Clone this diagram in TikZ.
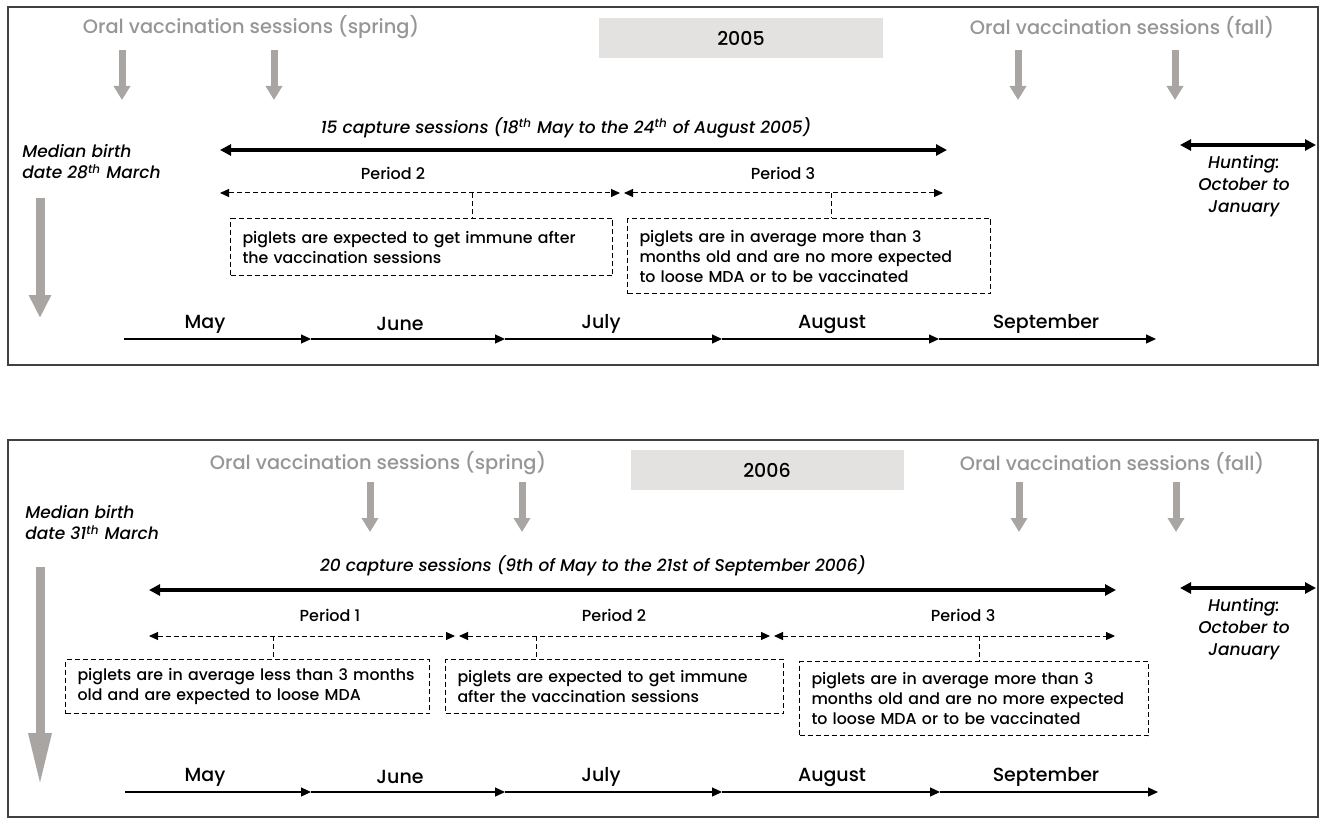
\documentclass[tikz,border=0pt]{standalone}
\usepackage{fontspec}
\setmainfont{Poppins Medium}[ItalicFont={Poppins Medium Italic}]
\usepackage{tikz}
\usetikzlibrary{arrows.meta,positioning,calc}
\definecolor{framegray}{RGB}{64,64,64}
\definecolor{vacgray}{RGB}{168,165,163}
\definecolor{vactext}{RGB}{150,150,150}
\definecolor{yearfill}{RGB}{228,226,225}

\begin{document}
\begin{tikzpicture}[
        x=0.5pt, y=-0.5pt,
        panel/.style={draw=framegray, line width=1pt},
        vactitle/.style={text=vactext, font=\fontsize{9.7}{12}\selectfont},
        yearbox/.style={fill=yearfill, minimum width=142pt, minimum height=20pt, font=\fontsize{9.5}{11}\selectfont},
        capturetext/.style={font=\fontsize{8.5}{10}\selectfont\itshape},
        sidetext/.style={font=\fontsize{8.5}{10.5}\selectfont\itshape, align=left, anchor=west, inner sep=0pt},
        huntext/.style={font=\fontsize{8.5}{11}\selectfont\itshape, align=center},
        periodtext/.style={font=\fontsize{8}{10}\selectfont},
        monthtext/.style={font=\fontsize{9.5}{11}\selectfont},
        note/.style={draw, dash pattern=on 2.5pt off 1.5pt, line width=0.5pt, anchor=north west, align=left, inner xsep=6pt, font=\fontsize{7.9}{10}\selectfont},
        vacarrow/.style={draw=vacgray, line width=3.5pt, -{Triangle[length=7pt, width=8pt]}},
        birtharrow/.style={draw=vacgray, line width=4.5pt, -{Triangle[length=11.5pt, width=10.5pt]}},
        capture/.style={line width=2pt, {Triangle[length=5.5pt, width=5.5pt]}-{Triangle[length=5.5pt, width=5.5pt]}},
        period/.style={dash pattern=on 2.5pt off 1.5pt, line width=0.5pt, {Triangle[length=4.5pt, width=4pt]}-{Triangle[length=4.5pt, width=4pt]}},
        stub/.style={dash pattern=on 2.5pt off 1.5pt, line width=0.5pt},
        month/.style={line width=0.6pt, -{Triangle[length=5pt, width=4.5pt]}}
    ]
        \useasboundingbox (0,0) rectangle (1320,818);

        % ---------------- 2005 ----------------
        \draw[panel] (8,7) rectangle (1318,365);

        % Vaccination sessions and year
        \node[vactitle] (springA) at (251,27) {Oral vaccination sessions (spring)};
        \node[yearbox] (yearA) at (741,38) {2005};
        \node[vactitle] (fallA) at (1122,27) {Oral vaccination sessions (fall)};

        \coordinate (vA1) at (122,50);  \coordinate (vA1e) at (122,100);
        \coordinate (vA2) at (274,50);  \coordinate (vA2e) at (274,100);
        \coordinate (vA3) at (1018,50); \coordinate (vA3e) at (1018,100);
        \coordinate (vA4) at (1175,50); \coordinate (vA4e) at (1175,100);
        \draw[vacarrow] (vA1) -- (vA1e);
        \draw[vacarrow] (vA2) -- (vA2e);
        \draw[vacarrow] (vA3) -- (vA3e);
        \draw[vacarrow] (vA4) -- (vA4e);

        % Capture sessions
        \node[capturetext] (captureA) at (566,128) {15 capture sessions (18\textsuperscript{th} May to the 24\textsuperscript{th} of August 2005)};
        \coordinate (capA) at (220,150); \coordinate (capAe) at (947,150);
        \draw[capture] (capA) -- (capAe);

        % Birth date
        \node[sidetext] (birthA) at (22,162) {Median birth\\date 28\textsuperscript{th} March};
        \coordinate (bA) at (40,198); \coordinate (bAe) at (40,318);
        \draw[birtharrow] (bA) -- (bAe);

        % Hunting
        \coordinate (huA) at (1180,145); \coordinate (huAe) at (1316,145);
        \draw[capture] (huA) -- (huAe);
        \node[huntext] (huntA) at (1244,186) {Hunting:\\October to\\January};

        % Periods
        \node[periodtext] (perAtwo) at (393,173) {Period 2};
        \node[periodtext] (perAthree) at (783,173) {Period 3};
        \coordinate (pA0) at (220,193); \coordinate (pA1) at (620,193);
        \coordinate (pA2) at (624,193); \coordinate (pA3) at (943,193);
        \draw[period] (pA0) -- (pA1);
        \draw[period] (pA2) -- (pA3);

        \node[note, text width=179pt, minimum height=28.5pt] (noteAtwo) at (230,218) {piglets are expected to get immune after\\the vaccination sessions};
        \node[note, text width=169.5pt, minimum height=37.5pt] (noteAthree) at (627,218) {piglets are in average more than 3\\months old and are no more expected\\to loose MDA or to be vaccinated};
        \coordinate (sAtwo) at (472,193);
        \coordinate (sAthree) at (831,193);
        \draw[stub] (sAtwo) -- (sAtwo |- noteAtwo.north);
        \draw[stub] (sAthree) -- (sAthree |- noteAthree.north);

        % Months
        \coordinate (mA0) at (124,339);  \coordinate (mA1) at (311,339);
        \coordinate (mA2) at (505,339);  \coordinate (mA3) at (722,339);
        \coordinate (mA4) at (939,339);  \coordinate (mA5) at (1156,339);
        \draw[month] (mA0) -- (mA1);
        \draw[month] (mA1) -- (mA2);
        \draw[month] (mA2) -- (mA3);
        \draw[month] (mA3) -- (mA4);
        \draw[month] (mA4) -- (mA5);
        \node[monthtext] (mayA) at (205,324) {May};
        \node[monthtext] (junA) at (400,324) {June};
        \node[monthtext] (julA) at (601,324) {July};
        \node[monthtext] (augA) at (832,324) {August};
        \node[monthtext] (sepA) at (1046,324) {September};

        % ---------------- 2006 ----------------
        \draw[panel] (8,440) rectangle (1318,817);

        % Vaccination sessions and year
        \node[vactitle] (springB) at (378,463) {Oral vaccination sessions (spring)};
        \node[yearbox, minimum width=136.5pt] (yearB) at (767,470) {2006};
        \node[vactitle] (fallB) at (1112,463) {Oral vaccination sessions (fall)};

        \coordinate (vB1) at (370,482);  \coordinate (vB1e) at (370,532);
        \coordinate (vB2) at (522,482);  \coordinate (vB2e) at (522,532);
        \coordinate (vB3) at (1019,482); \coordinate (vB3e) at (1019,532);
        \coordinate (vB4) at (1176,482); \coordinate (vB4e) at (1176,532);
        \draw[vacarrow] (vB1) -- (vB1e);
        \draw[vacarrow] (vB2) -- (vB2e);
        \draw[vacarrow] (vB3) -- (vB3e);
        \draw[vacarrow] (vB4) -- (vB4e);

        % Capture sessions
        \node[capturetext] (captureB) at (593,566) {20 capture sessions (9th of May to the 21st of September 2006)};
        \coordinate (capB) at (149,590); \coordinate (capBe) at (1116,590);
        \draw[capture] (capB) -- (capBe);

        % Birth date
        \node[sidetext] (birthB) at (25,523) {Median birth\\date 31\textsuperscript{th} March};
        \coordinate (bB) at (40,567); \coordinate (bBe) at (40,787);
        \draw[birtharrow, -{Triangle[length=27pt, width=10.5pt]}] (bB) -- (bBe);

        % Hunting
        \coordinate (huB) at (1180,588); \coordinate (huBe) at (1316,588);
        \draw[capture] (huB) -- (huBe);
        \node[huntext] (huntB) at (1244,629) {Hunting:\\October to\\January};

        % Periods
        \node[periodtext] (perBone) at (330,615) {Period 1};
        \node[periodtext] (perBtwo) at (614,615) {Period 2};
        \node[periodtext] (perBthree) at (963,615) {Period 3};
        \coordinate (pB0) at (149,636); \coordinate (pB1) at (455,636);
        \coordinate (pB2) at (459,636); \coordinate (pB3) at (770,636);
        \coordinate (pB4) at (774,636); \coordinate (pB5) at (1115,636);
        \draw[period] (pB0) -- (pB1);
        \draw[period] (pB2) -- (pB3);
        \draw[period] (pB4) -- (pB5);

        \node[note, text width=170pt, minimum height=27pt] (noteBone) at (65,659) {piglets are in average less than 3 months\\old and are expected to loose MDA};
        \node[note, text width=157pt, minimum height=27pt] (noteBtwo) at (445,659) {piglets are expected to get immune\\after the vaccination sessions};
        \node[note, text width=162.5pt, minimum height=37pt] (noteBthree) at (799,661) {piglets are in average more than 3\\months old and are no more expected\\to loose MDA or to be vaccinated};
        \coordinate (sBone) at (273,636);
        \coordinate (sBtwo) at (536,636);
        \coordinate (sBthree) at (979,636);
        \draw[stub] (sBone) -- (sBone |- noteBone.north);
        \draw[stub] (sBtwo) -- (sBtwo |- noteBtwo.north);
        \draw[stub] (sBthree) -- (sBthree |- noteBthree.north);

        % Months
        \coordinate (mB0) at (125,792);  \coordinate (mB1) at (311,792);
        \coordinate (mB2) at (505,792);  \coordinate (mB3) at (722,792);
        \coordinate (mB4) at (940,792);  \coordinate (mB5) at (1158,792);
        \draw[month] (mB0) -- (mB1);
        \draw[month] (mB1) -- (mB2);
        \draw[month] (mB2) -- (mB3);
        \draw[month] (mB3) -- (mB4);
        \draw[month] (mB4) -- (mB5);
        \node[monthtext] (mayB) at (205,777) {May};
        \node[monthtext] (junB) at (400,777) {June};
        \node[monthtext] (julB) at (601,777) {July};
        \node[monthtext] (augB) at (832,777) {August};
        \node[monthtext] (sepB) at (1046,777) {September};
    \end{tikzpicture}
\end{document}
